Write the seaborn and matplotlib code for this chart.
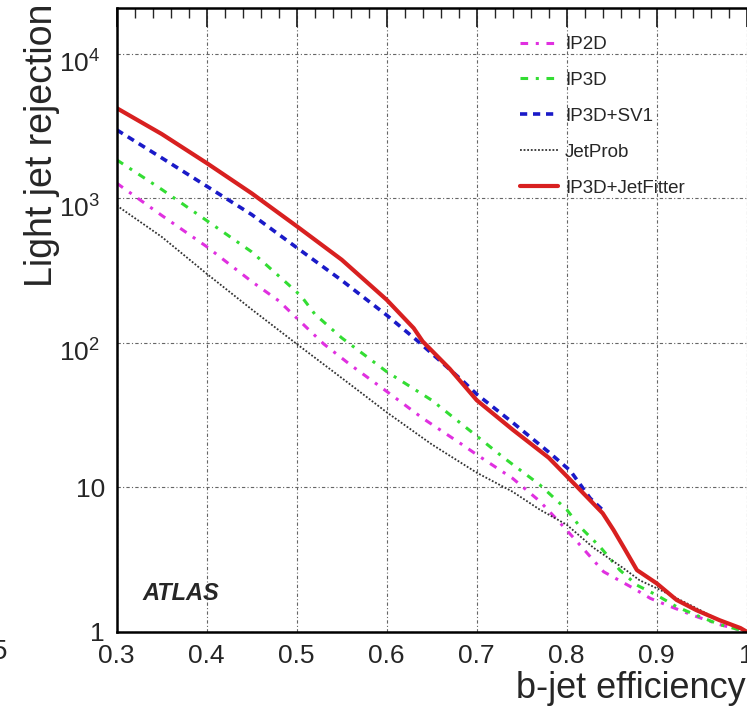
import numpy as np
import pandas as pd
import matplotlib
matplotlib.use("Agg")
import matplotlib.pyplot as plt
import matplotlib.transforms as mtransforms
import seaborn as sns
from matplotlib.ticker import FixedLocator, LogLocator, NullFormatter, MultipleLocator

# b-jet efficiency vs light jet rejection
ip2d_eff = [0.30, 0.35, 0.40, 0.45, 0.48, 0.50, 0.53, 0.56, 0.60, 0.64, 0.685, 0.70, 0.74, 0.77,
            0.79, 0.81, 0.841, 0.874, 0.893, 0.911, 0.94, 0.97, 1.0]
ip2d_rej = [1270, 760, 462, 265, 195, 148, 98, 70, 46, 30, 19.5, 16.8, 11.5, 8.0,
            5.9, 4.3, 2.6, 2.0, 1.7, 1.53, 1.3, 1.12, 1.0]

ip3d_eff = [0.30, 0.35, 0.40, 0.45, 0.49, 0.505, 0.52, 0.55, 0.60, 0.65, 0.70, 0.73, 0.77, 0.80,
            0.815, 0.837, 0.859, 0.878, 0.90, 0.922, 0.944, 0.97, 1.0]
ip3d_rej = [1842, 1150, 700, 425, 255, 210, 158, 108, 63, 40, 22.6, 16, 10.4, 7.0,
            5.3, 3.87, 2.67, 2.1, 1.79, 1.49, 1.3, 1.12, 1.0]

sv1_eff = [0.30, 0.35, 0.40, 0.45, 0.50, 0.55, 0.60, 0.635, 0.685, 0.70, 0.74, 0.78, 0.804, 0.826, 0.84]
sv1_rej = [2970, 1900, 1210, 770, 455, 270, 155, 102, 54, 44, 28, 17.5, 13.0, 8.4, 6.95]

jetprob_eff = [0.30, 0.35, 0.40, 0.45, 0.50, 0.55, 0.60, 0.65, 0.70, 0.74, 0.77, 0.80, 0.83,
               0.863, 0.881, 0.90, 0.94, 0.97, 1.0]
jetprob_rej = [890, 540, 300, 170, 98, 57, 33, 19.8, 12.6, 9.3, 7.0, 5.5, 3.8,
               2.75, 2.27, 2.0, 1.5, 1.2, 1.0]

jf_eff = [0.30, 0.35, 0.40, 0.45, 0.50, 0.55, 0.60, 0.63, 0.64, 0.67, 0.70, 0.74, 0.78, 0.81,
          0.84, 0.852, 0.863, 0.878, 0.90, 0.922, 0.944, 0.97, 0.993, 1.0]
jf_rej = [4200, 2780, 1750, 1080, 640, 375, 198, 126, 102, 66, 40, 25, 16, 10.3,
          6.6, 5.06, 3.87, 2.67, 2.16, 1.66, 1.41, 1.2, 1.06, 1.0]

taggers = ["IP2D", "IP3D", "IP3D+SV1", "JetProb", "IP3D+JetFitter"]
x_ticks = [0.3, 0.4, 0.5, 0.6, 0.7, 0.8, 0.9, 1.0]
x_ticklabels = ["0.3", "0.4", "0.5", "0.6", "0.7", "0.8", "0.9", "1"]
y_ticks = [1, 10, 100, 1000, 10000]
y_ticklabels = ["1", "10", r"$10^{2}$", r"$10^{3}$", r"$10^{4}$"]

sns.set_style("white")
plt.rcParams["font.family"] = ["Liberation Sans", "DejaVu Sans"]
plt.rcParams["mathtext.default"] = "regular"

curves = {
    "IP2D": (ip2d_eff, ip2d_rej),
    "IP3D": (ip3d_eff, ip3d_rej),
    "IP3D+SV1": (sv1_eff, sv1_rej),
    "JetProb": (jetprob_eff, jetprob_rej),
    "IP3D+JetFitter": (jf_eff, jf_rej),
}
styles = {
    "IP2D": dict(color="#e030e0", lw=2.2, ls=(0, (2.5, 2.5, 1, 2.5))),
    "IP3D": dict(color="#33dd33", lw=2.2, ls=(0, (2.5, 2.5, 1, 2.5))),
    "IP3D+SV1": dict(color="#1a1ac8", lw=2.6, ls=(0, (2, 1.6))),
    "JetProb": dict(color="#333333", lw=1.3, ls=(0, (1, 1))),
    "IP3D+JetFitter": dict(color="#d82020", lw=3.0, ls="-"),
}

fig = plt.figure(figsize=(7.47, 7.08), dpi=100)
ax = fig.add_axes([116.7 / 747, 76.3 / 708, 630 / 747, 623.7 / 708])

for name in taggers:
    eff, rej = curves[name]
    df = pd.DataFrame({"eff": eff, "rej": rej})
    st = styles[name]
    sns.lineplot(data=df, x="eff", y="rej", ax=ax, color=st["color"], linewidth=st["lw"],
                 linestyle=st["ls"], label=name, sort=False, estimator=None)

ax.set_yscale("log")
ax.set_xlim(0.3, 1.0)
ax.set_ylim(1, 10 ** 4.316)

ax.xaxis.set_major_locator(FixedLocator(x_ticks))
ax.set_xticklabels(x_ticklabels)
ax.xaxis.set_minor_locator(MultipleLocator(0.02))
ax.yaxis.set_major_locator(FixedLocator(y_ticks))
ax.set_yticklabels(y_ticklabels)
ax.yaxis.set_minor_locator(LogLocator(base=10, subs=np.arange(2, 10)))
ax.yaxis.set_minor_formatter(NullFormatter())

ax.tick_params(which="major", direction="in", length=14, width=1.3, top=True, right=False,
               labelsize=19, pad=9)
ax.tick_params(which="minor", direction="in", length=7, width=1.0, top=True, right=False)
ax.tick_params(axis="y", which="major", pad=12)

# ROOT-style: the power labels sit a bit below their tick, plain ones a bit further right
for lab in ax.get_yticklabels():
    if "^" in lab.get_text():
        off = mtransforms.ScaledTranslation(0, -8 / 100, fig.dpi_scale_trans)
    else:
        off = mtransforms.ScaledTranslation(5 / 100, 0, fig.dpi_scale_trans)
    lab.set_transform(lab.get_transform() + off)

ax.grid(True, which="major", color="#666666", linestyle=(0, (3, 2, 1, 2)), linewidth=0.8)
for s in ["left", "bottom", "top"]:
    ax.spines[s].set_linewidth(1.8)
    ax.spines[s].set_color("black")
ax.spines["right"].set_visible(False)

ax.set_xlabel("")
ax.set_ylabel("")
fig.text(42 / 747, 1 - 4 / 708, "Light jet rejection", rotation=90, ha="center", va="top", fontsize=27)
fig.text(746 / 747, 1 - 688 / 708, "b-jet efficiency", ha="right", va="center", fontsize=26)
fig.text(0.0, 1 - 652 / 708, "5", ha="center", va="center", fontsize=20)

ax.text(142 / 747, 1 - 593 / 708, "ATLAS", transform=fig.transFigure, fontsize=17,
        fontweight="bold", fontstyle="italic", ha="left", va="center")

leg = ax.legend(loc="upper left", bbox_to_anchor=(520 / 747, 1 - 36 / 708), bbox_transform=fig.transFigure,
                frameon=False, fontsize=13.5, handlelength=2.0, handletextpad=0.4, labelspacing=1.0,
                borderpad=0, borderaxespad=0)

fig.savefig("out.png", dpi=100)
